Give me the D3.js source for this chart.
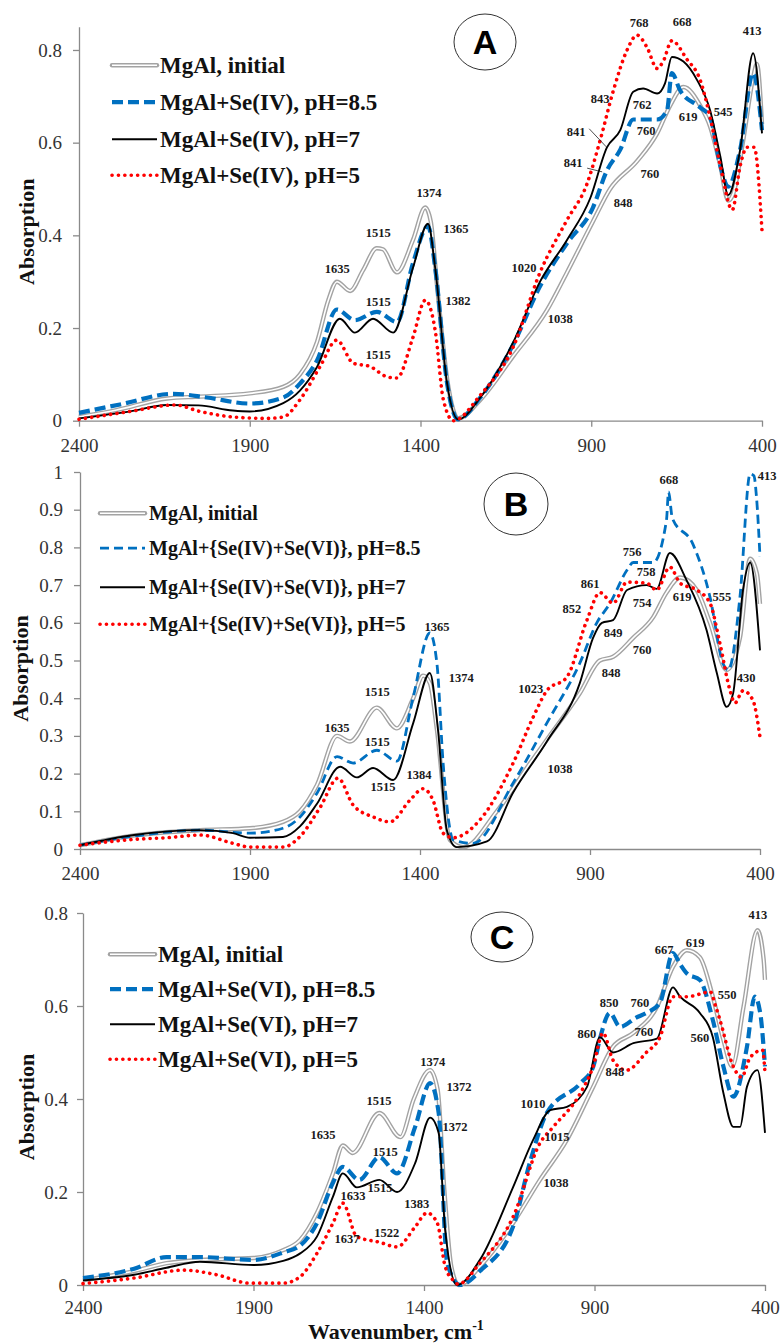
<!DOCTYPE html>
<html lang="en">
<head>
<meta charset="UTF-8">
<title>FTIR spectra MgAl + Se</title>
<script src="https://cdn.jsdelivr.net/npm/d3@7"></script>
<style>
  body { margin: 0; background: #fff; }
</style>
</head>
<body>
<div id="chart"></div>
<script>
// ---- data: [wavenumber, absorption] ----
// panel A : Se(IV)
const aInit = [[2400,0.008],[2290,0.023],[2142,0.048],[2046,0.052],[1900,0.059],[1802,0.073],[1753,0.10],[1703,0.17],[1670,0.26],[1645,0.30],[1606,0.28],[1568,0.325],[1528,0.372],[1510,0.37],[1469,0.32],[1422,0.39],[1386,0.46],[1370,0.43],[1350,0.28],[1320,0.08],[1290,0.005],[1225,0.045],[1128,0.14],[1030,0.238],[971,0.32],[895,0.43],[845,0.50],[766,0.56],[707,0.62],[669,0.68],[630,0.72],[581,0.68],[552,0.635],[522,0.55],[499,0.475],[484,0.49],[455,0.605],[426,0.74],[415,0.77],[400,0.64]]
const aPh85 = [[2400,0.017],[2280,0.035],[2124,0.058],[2026,0.05],[1900,0.037],[1802,0.05],[1753,0.08],[1703,0.13],[1645,0.24],[1592,0.217],[1528,0.235],[1469,0.213],[1422,0.34],[1378,0.42],[1357,0.33],[1322,0.08],[1290,0.003],[1225,0.05],[1128,0.165],[1050,0.29],[971,0.383],[895,0.46],[854,0.54],[815,0.585],[777,0.65],[707,0.65],[678,0.67],[664,0.75],[640,0.713],[581,0.676],[552,0.655],[522,0.55],[499,0.505],[464,0.585],[426,0.75],[400,0.627]]
const aPh7 = [[2400,0.005],[2250,0.02],[2142,0.034],[2050,0.033],[1950,0.022],[1900,0.02],[1802,0.038],[1753,0.065],[1703,0.116],[1636,0.22],[1592,0.19],[1539,0.22],[1480,0.19],[1422,0.33],[1378,0.425],[1357,0.33],[1322,0.08],[1290,0.003],[1225,0.05],[1128,0.17],[1050,0.30],[971,0.39],[903,0.48],[854,0.59],[815,0.627],[777,0.71],[748,0.717],[707,0.706],[684,0.728],[664,0.785],[630,0.775],[590,0.735],[552,0.67],[522,0.57],[499,0.487],[464,0.585],[426,0.793],[400,0.62]]
const aPh5 = [[2400,0.003],[2250,0.02],[2119,0.034],[2046,0.02],[1948,0.008],[1850,0.005],[1802,0.008],[1753,0.045],[1694,0.117],[1645,0.174],[1597,0.124],[1548,0.117],[1499,0.095],[1469,0.092],[1422,0.18],[1386,0.26],[1357,0.195],[1333,0.045],[1304,0.0],[1225,0.055],[1128,0.16],[1050,0.32],[971,0.433],[913,0.51],[874,0.605],[835,0.713],[795,0.80],[766,0.832],[737,0.806],[707,0.76],[689,0.776],[664,0.82],[620,0.78],[581,0.735],[552,0.655],[522,0.55],[487,0.455],[464,0.55],[444,0.59],[423,0.59],[400,0.41]]

// panel B : Se(IV)+Se(VI)
const bInit = [[2400,0.01],[2250,0.035],[2047,0.05],[1900,0.055],[1803,0.072],[1753,0.10],[1703,0.17],[1644,0.30],[1606,0.285],[1527,0.375],[1468,0.32],[1420,0.40],[1391,0.46],[1371,0.44],[1350,0.315],[1312,0.024],[1273,0.005],[1174,0.10],[1076,0.228],[1027,0.29],[930,0.413],[871,0.50],[832,0.51],[773,0.56],[714,0.615],[675,0.68],[635,0.72],[586,0.687],[547,0.60],[498,0.475],[459,0.56],[429,0.77],[409,0.73],[400,0.65]]
const bPh85 = [[2400,0.01],[2250,0.033],[2047,0.05],[1900,0.042],[1803,0.055],[1753,0.085],[1703,0.148],[1644,0.245],[1597,0.228],[1527,0.262],[1468,0.233],[1420,0.403],[1371,0.573],[1350,0.49],[1332,0.228],[1302,0.024],[1244,0.015],[1126,0.175],[1027,0.334],[930,0.493],[880,0.60],[841,0.652],[791,0.74],[773,0.76],[714,0.76],[675,0.873],[669,0.947],[658,0.878],[598,0.81],[547,0.668],[508,0.49],[493,0.475],[459,0.668],[429,0.995],[418,0.99],[410,0.93],[400,0.775]]
const bPh7 = [[2400,0.01],[2241,0.037],[2047,0.05],[1950,0.042],[1900,0.03],[1803,0.032],[1753,0.06],[1703,0.12],[1635,0.218],[1586,0.19],[1538,0.215],[1479,0.183],[1420,0.334],[1371,0.467],[1347,0.315],[1321,0.05],[1292,0.005],[1203,0.02],[1126,0.15],[1027,0.285],[930,0.44],[891,0.56],[865,0.60],[832,0.607],[791,0.687],[733,0.70],[704,0.69],[665,0.785],[616,0.713],[557,0.58],[527,0.467],[498,0.377],[479,0.413],[450,0.687],[429,0.76],[400,0.527]]
const bPh5 = [[2400,0.01],[2250,0.025],[2144,0.03],[2047,0.037],[1950,0.015],[1900,0.005],[1803,0.005],[1753,0.033],[1694,0.11],[1641,0.188],[1597,0.117],[1538,0.085],[1488,0.072],[1429,0.13],[1391,0.16],[1362,0.13],[1332,0.042],[1302,0.03],[1224,0.077],[1126,0.228],[1067,0.35],[1027,0.42],[968,0.456],[909,0.607],[871,0.68],[832,0.652],[791,0.708],[733,0.705],[704,0.687],[665,0.748],[635,0.705],[586,0.687],[547,0.652],[518,0.546],[488,0.42],[474,0.387],[450,0.42],[421,0.395],[400,0.297]]

// panel C : Se(VI)
const cInit = [[2400,0.01],[2250,0.03],[2155,0.047],[2057,0.054],[1900,0.058],[1813,0.075],[1763,0.097],[1714,0.155],[1667,0.24],[1638,0.30],[1609,0.284],[1531,0.37],[1469,0.318],[1430,0.40],[1382,0.462],[1360,0.42],[1340,0.2],[1320,0.04],[1298,0.0],[1236,0.04],[1139,0.133],[1060,0.226],[981,0.312],[904,0.426],[846,0.512],[786,0.542],[717,0.598],[670,0.684],[629,0.72],[591,0.705],[553,0.62],[522,0.527],[496,0.47],[463,0.598],[422,0.763],[404,0.70],[400,0.656]]
const cPh85 = [[2400,0.015],[2250,0.035],[2155,0.06],[2057,0.06],[1900,0.054],[1813,0.07],[1763,0.085],[1714,0.133],[1667,0.22],[1638,0.254],[1590,0.226],[1531,0.275],[1479,0.24],[1426,0.34],[1382,0.434],[1357,0.37],[1332,0.047],[1294,0.0],[1236,0.03],[1139,0.125],[1090,0.262],[1040,0.37],[941,0.434],[904,0.469],[884,0.53],[855,0.585],[825,0.555],[778,0.575],[748,0.585],[708,0.607],[670,0.714],[649,0.69],[629,0.67],[591,0.656],[553,0.57],[522,0.47],[493,0.405],[453,0.512],[430,0.62],[414,0.585],[400,0.47]]
const cPh7 = [[2400,0.01],[2250,0.022],[2155,0.037],[2057,0.05],[1900,0.043],[1813,0.052],[1763,0.068],[1714,0.104],[1667,0.19],[1638,0.24],[1597,0.21],[1531,0.226],[1479,0.20],[1426,0.262],[1382,0.36],[1357,0.327],[1338,0.118],[1303,0.0],[1236,0.054],[1139,0.21],[1080,0.312],[1030,0.376],[981,0.383],[922,0.426],[884,0.533],[846,0.50],[786,0.52],[717,0.53],[670,0.64],[649,0.62],[591,0.585],[553,0.533],[522,0.413],[493,0.34],[473,0.34],[453,0.426],[422,0.462],[400,0.327]]
const cPh5 = [[2400,0.003],[2250,0.015],[2105,0.032],[2008,0.022],[1911,0.004],[1813,0.004],[1763,0.018],[1714,0.068],[1667,0.133],[1638,0.176],[1597,0.104],[1531,0.092],[1479,0.082],[1426,0.125],[1391,0.155],[1361,0.133],[1338,0.04],[1314,0.01],[1300,0.002],[1236,0.047],[1139,0.146],[1060,0.305],[1021,0.34],[941,0.413],[904,0.47],[875,0.542],[846,0.484],[806,0.462],[748,0.5],[708,0.533],[670,0.62],[629,0.62],[560,0.63],[545,0.60],[532,0.57],[493,0.47],[469,0.447],[443,0.49],[407,0.505],[400,0.456]]

const legendA = ['MgAl, initial', 'MgAl+Se(IV), pH=8.5', 'MgAl+Se(IV), pH=7', 'MgAl+Se(IV), pH=5']
const legendB = ['MgAl, initial', 'MgAl+{Se(IV)+Se(VI)}, pH=8.5', 'MgAl+{Se(IV)+Se(VI)}, pH=7', 'MgAl+{Se(IV)+Se(VI)}, pH=5']
const legendC = ['MgAl, initial', 'MgAl+Se(VI), pH=8.5', 'MgAl+Se(VI), pH=7', 'MgAl+Se(VI), pH=5']

const xTicks = [2400, 1900, 1400, 900, 400]
const yTicksA = [0, 0.2, 0.4, 0.6, 0.8]
const yTicksB = [0, 0.1, 0.2, 0.3, 0.4, 0.5, 0.6, 0.7, 0.8, 0.9, 1]
const yTicksC = [0, 0.2, 0.4, 0.6, 0.8]

// peak labels: [text, wavenumber, absorption]
const notesA = [['1635',1644,0.327],['1515',1524,0.405],['1515',1524,0.256],['1515',1524,0.142],['1374',1375,0.491],['1365',1296,0.413],['1382',1290,0.258],['1020',1097,0.329],['1038',991,0.219],['848',807,0.469],['760',728,0.532],['760',739,0.625],['762',751,0.681],['843',874,0.694],['841',944,0.623],['841',953,0.556],['768',760,0.858],['668',634,0.860],['619',616,0.655],['545',514,0.666],['413',429,0.841]]
const leadersA = [[906,0.630,856,0.591],[912,0.545,868,0.537]]
const notesB = [['1635',1644,0.321],['1515',1526,0.416],['1515',1526,0.284],['1515',1509,0.164],['1365',1350,0.589],['1374',1279,0.454],['1384',1403,0.196],['1023',1074,0.424],['1038',988,0.212],['852',953,0.637],['861',900,0.703],['849',832,0.573],['848',838,0.467],['760',747,0.528],['754',747,0.653],['758',735,0.735],['756',776,0.788],['668',668,0.979],['619',629,0.668],['555',512,0.668],['430',441,0.454],['413',379,0.989]]
const notesC = [['1635',1696,0.323],['1515',1532,0.396],['1515',1514,0.286],['1515',1529,0.209],['1633',1608,0.191],['1637',1626,0.099],['1522',1509,0.112],['1374',1374,0.480],['1372',1297,0.426],['1372',1309,0.340],['1383',1421,0.174],['1010',1080,0.389],['1015',1010,0.318],['1038',1013,0.219],['850',857,0.606],['760',767,0.606],['860',922,0.540],['760',755,0.544],['848',840,0.458],['667',696,0.720],['619',605,0.735],['550',511,0.624],['560',591,0.531],['413',421,0.796]]

// ---- layout ----
const panels = [
  { key: 'A', series: [aInit, aPh85, aPh7, aPh5], legend: legendA, notes: notesA, leaders: leadersA, yTicks: yTicksA,
    x0: 79, x1: 762, yZero: 420.7, pxPerUnit: 463.4, yMax: 0.85, titleX: 26, yPad: 11, xPad: 12,
    legX1: 112, legX2: 157, legTextX: 160, legBase: [73, 110, 147, 183], legFont: 23,
    blueW: 4.2, blueDash: '11 5', ell: [485, 42, 31, 28] },
  { key: 'B', series: [bInit, bPh85, bPh7, bPh5], legend: legendB, notes: notesB, leaders: [], yTicks: yTicksB,
    x0: 80, x1: 760, yZero: 849, pxPerUnit: 377, yMax: 1, titleX: 20, yPad: 11, xPad: 12,
    legX1: 100, legX2: 145, legTextX: 149, legBase: [520, 555, 594, 631], legFont: 20,
    blueW: 2.8, blueDash: '9 5', ell: [516, 504, 32, 31] },
  { key: 'C', series: [cInit, cPh85, cPh7, cPh5], legend: legendC, notes: notesC, leaders: [], yTicks: yTicksC,
    x0: 83, x1: 765, yZero: 1285, pxPerUnit: 465, yMax: 0.8, titleX: 26, yPad: 9, xPad: 10,
    legX1: 110, legX2: 155, legTextX: 158, legBase: [962, 997, 1032, 1067], legFont: 23,
    blueW: 4.2, blueDash: '11 5', ell: [502, 937, 31, 25] }
]

const width = 780
const height = 1343
const SERIF = '"Liberation Serif", "Times New Roman", Times, serif'
const SANS = '"Liberation Sans", Arial, Helvetica, sans-serif'
const AXIS_COLOR = '#8a8a8a'
const GRAY = '#a3a3a3'
const BLUE = '#0070c0'
const RED = '#ff0000'

const svg = d3.select('#chart').append('svg')
  .attr('width', width)
  .attr('height', height)
  .style('font-family', SERIF)

const drawPanel = p => {
  const x = d3.scaleLinear().domain([2400, 400]).range([p.x0, p.x1])
  const y = d3.scaleLinear().domain([0, p.yMax]).range([p.yZero, p.yZero - p.yMax * p.pxPerUnit])
  const g = svg.append('g')

  // axes
  g.append('g')
    .attr('transform', `translate(0,${p.yZero})`)
    .call(d3.axisBottom(x).tickValues(xTicks).tickSize(6).tickSizeOuter(0).tickPadding(p.xPad).tickFormat(d3.format('d')))
  g.append('g')
    .attr('transform', `translate(${p.x0},0)`)
    .call(d3.axisLeft(y).tickValues(p.yTicks).tickSize(6).tickSizeOuter(0).tickPadding(p.yPad).tickFormat(d3.format('~g')))
  g.selectAll('.domain, .tick line').attr('stroke', AXIS_COLOR).attr('stroke-width', 1.3)
  g.selectAll('.tick text')
    .style('font-family', SERIF)
    .style('font-size', '19px')
    .attr('fill', '#333')

  g.append('text')
    .attr('transform', `translate(${p.titleX},${(p.yZero + y(p.yMax)) / 2 + 8}) rotate(-90)`)
    .attr('text-anchor', 'middle')
    .attr('dominant-baseline', 'central')
    .style('font-family', SERIF)
    .style('font-weight', 'bold')
    .style('font-size', '22px')
    .attr('fill', '#111')
    .text('Absorption')

  // curves
  const line = d3.line().x(d => x(d[0])).y(d => y(d[1])).curve(d3.curveMonotoneX)
  const [init, ph85, ph7, ph5] = p.series

  g.append('path').datum(init).attr('d', line)
    .attr('fill', 'none').attr('stroke', GRAY).attr('stroke-width', 4.4).attr('stroke-linejoin', 'round')
  g.append('path').datum(init).attr('d', line)
    .attr('fill', 'none').attr('stroke', '#fff').attr('stroke-width', 1.6).attr('stroke-linejoin', 'round')
  g.append('path').datum(ph85).attr('d', line)
    .attr('fill', 'none').attr('stroke', BLUE).attr('stroke-width', p.blueW).attr('stroke-dasharray', p.blueDash)
  g.append('path').datum(ph7).attr('d', line)
    .attr('fill', 'none').attr('stroke', '#000').attr('stroke-width', 1.9).attr('stroke-linejoin', 'round')
  g.append('path').datum(ph5).attr('d', line)
    .attr('fill', 'none').attr('stroke', RED).attr('stroke-width', 3.6)
    .attr('stroke-dasharray', '0.1 6.3').attr('stroke-linecap', 'round')

  // legend
  const styles = [
    s => s.attr('stroke', GRAY).attr('stroke-width', 4.4).attr('stroke-linecap', 'round'),
    s => s.attr('stroke', BLUE).attr('stroke-width', p.blueW).attr('stroke-dasharray', p.blueDash),
    s => s.attr('stroke', '#000').attr('stroke-width', 1.9),
    s => s.attr('stroke', RED).attr('stroke-width', 3.6).attr('stroke-dasharray', '0.1 6.3').attr('stroke-linecap', 'round')
  ]
  p.legend.forEach((label, i) => {
    const ly = p.legBase[i] - (p.legFont * 0.34)
    g.append('line').attr('x1', p.legX1).attr('x2', p.legX2).attr('y1', ly).attr('y2', ly).call(styles[i])
    if (i === 0) {
      g.append('line').attr('x1', p.legX1).attr('x2', p.legX2).attr('y1', ly).attr('y2', ly)
        .attr('stroke', '#fff').attr('stroke-width', 1.6)
    }
    g.append('text')
      .attr('x', p.legTextX)
      .attr('y', p.legBase[i])
      .style('font-family', SERIF)
      .style('font-weight', 'bold')
      .style('font-size', p.legFont + 'px')
      .attr('fill', '#111')
      .text(label)
  })

  // peak labels
  g.append('g')
    .selectAll('text')
    .data(p.notes)
    .join('text')
    .attr('x', d => x(d[1]))
    .attr('y', d => y(d[2]))
    .attr('text-anchor', 'middle')
    .attr('dominant-baseline', 'central')
    .style('font-family', SERIF)
    .style('font-weight', 'bold')
    .style('font-size', '12.5px')
    .attr('fill', '#1a1a1a')
    .text(d => d[0])

  g.append('g')
    .selectAll('line')
    .data(p.leaders)
    .join('line')
    .attr('x1', d => x(d[0])).attr('y1', d => y(d[1]))
    .attr('x2', d => x(d[2])).attr('y2', d => y(d[3]))
    .attr('stroke', '#222').attr('stroke-width', 0.8)

  // panel letter
  const [cx, cy, rx, ry] = p.ell
  g.append('ellipse').attr('cx', cx).attr('cy', cy).attr('rx', rx).attr('ry', ry)
    .attr('fill', '#fff').attr('stroke', '#333').attr('stroke-width', 1)
  g.append('text')
    .attr('x', cx).attr('y', cy + 12)
    .attr('text-anchor', 'middle')
    .style('font-family', SANS)
    .style('font-weight', 'bold')
    .style('font-size', '34px')
    .attr('fill', '#000')
    .text(p.key)
}

panels.forEach(drawPanel)

// x axis title
const title = svg.append('text')
  .attr('x', 308)
  .attr('y', 1339)
  .style('font-family', SERIF)
  .style('font-weight', 'bold')
  .style('font-size', '22px')
  .attr('fill', '#111')
title.append('tspan').text('Wavenumber, cm')
title.append('tspan').style('font-size', '14px').attr('dy', -9).text('-1')
</script>
</body>
</html>
